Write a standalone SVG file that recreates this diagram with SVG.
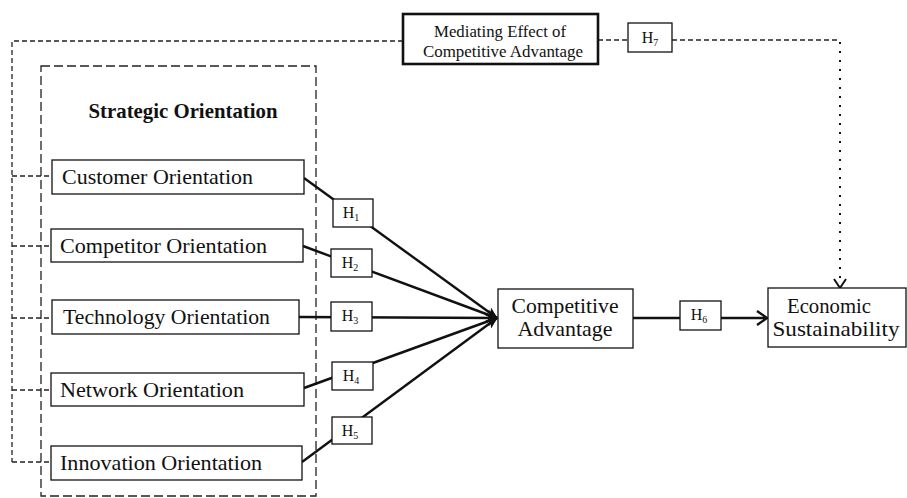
<svg xmlns="http://www.w3.org/2000/svg" width="907" height="498" viewBox="0 0 907 498">
<defs>
<style>
.box{fill:#fff;stroke:#111;stroke-width:1.3}
.thick{fill:#fff;stroke:#111;stroke-width:2.6}
.t{font-family:"Liberation Serif","DejaVu Serif",serif;fill:#111}
.node{font-size:21px}
.h{font-size:16px;text-anchor:middle}
.sub{font-size:10px}
.solid{stroke:#111;stroke-width:2.4;fill:none}
.dash{stroke:#222;stroke-width:1.3;fill:none;stroke-dasharray:5 3}
.dot{stroke:#111;stroke-width:2;fill:none;stroke-dasharray:2 7}
</style>
<marker id="fill" viewBox="0 0 12 10" refX="11" refY="5" markerWidth="12" markerHeight="10" markerUnits="userSpaceOnUse" orient="auto">
<path d="M0,0 L12,5 L0,10 L3,5 Z" fill="#111"/>
</marker>
</defs>
<g id="strategic-orientation">
<rect x="41" y="66" width="275" height="430" fill="none" stroke="#222" stroke-width="1.3" stroke-dasharray="9 4"/>
<text class="t" x="183" y="118" font-size="21" font-weight="bold" text-anchor="middle" textLength="189" lengthAdjust="spacingAndGlyphs">Strategic Orientation</text>
</g>
<g id="connectors">
<path class="dash" d="M403,41 H12 V462 M12,176 H51 M12,246 H51 M12,318 H51 M12,390 H51 M12,462 H51"/>
<path class="dash" d="M598,40 H628 M672,40 H840"/>
<path class="dot" d="M840,42 V284"/>
<path d="M834,279 L840,288 L846,279" fill="none" stroke="#111" stroke-width="2"/>
<line class="solid" x1="304" y1="178" x2="497" y2="318" marker-end="url(#fill)"/>
<line class="solid" x1="303" y1="246" x2="497" y2="318" marker-end="url(#fill)"/>
<line class="solid" x1="299" y1="317" x2="497" y2="318" marker-end="url(#fill)"/>
<line class="solid" x1="304" y1="388" x2="497" y2="318" marker-end="url(#fill)"/>
<line class="solid" x1="302" y1="462" x2="497" y2="318" marker-end="url(#fill)"/>
<line class="solid" x1="633" y1="318" x2="766" y2="318"/>
<path d="M757,311 L767,318 L757,325" fill="none" stroke="#111" stroke-width="2.4"/>
</g>
<g id="mediating-effect">
<rect class="thick" x="403" y="14" width="195" height="50"/>
<text class="t" x="500" y="37" font-size="17" text-anchor="middle" textLength="132" lengthAdjust="spacingAndGlyphs">Mediating Effect of</text>
<text class="t" x="503" y="57" font-size="17" text-anchor="middle" textLength="160" lengthAdjust="spacingAndGlyphs">Competitive Advantage</text>
</g>
<g id="h7">
<rect class="box" x="628" y="23" width="44" height="29"/>
<text class="t h" x="650" y="43">H<tspan class="sub" dy="3">7</tspan></text>
</g>
<g id="customer-orientation">
<rect class="box" x="52" y="160" width="252" height="34"/>
<text class="t node" x="62" y="184" textLength="191" lengthAdjust="spacingAndGlyphs">Customer Orientation</text>
</g>
<g id="competitor-orientation">
<rect class="box" x="51" y="229" width="252" height="33"/>
<text class="t node" x="60" y="253" textLength="207" lengthAdjust="spacingAndGlyphs">Competitor Orientation</text>
</g>
<g id="technology-orientation">
<rect class="box" x="52" y="300" width="247" height="34"/>
<text class="t node" x="63" y="324" textLength="207" lengthAdjust="spacingAndGlyphs">Technology Orientation</text>
</g>
<g id="network-orientation">
<rect class="box" x="51" y="373" width="253" height="33"/>
<text class="t node" x="60" y="397" textLength="184" lengthAdjust="spacingAndGlyphs">Network Orientation</text>
</g>
<g id="innovation-orientation">
<rect class="box" x="51" y="446" width="251" height="34"/>
<text class="t node" x="60" y="470" textLength="202" lengthAdjust="spacingAndGlyphs">Innovation Orientation</text>
</g>
<g id="h1">
<rect class="box" x="333" y="199" width="40" height="28"/>
<text class="t h" x="351" y="218">H<tspan class="sub" dy="3">1</tspan></text>
</g>
<g id="h2">
<rect class="box" x="331" y="249" width="41" height="28"/>
<text class="t h" x="350" y="268">H<tspan class="sub" dy="3">2</tspan></text>
</g>
<g id="h3">
<rect class="box" x="331" y="302" width="41" height="29"/>
<text class="t h" x="350" y="321">H<tspan class="sub" dy="3">3</tspan></text>
</g>
<g id="h4">
<rect class="box" x="332" y="362" width="41" height="28"/>
<text class="t h" x="351" y="381">H<tspan class="sub" dy="3">4</tspan></text>
</g>
<g id="h5">
<rect class="box" x="332" y="417" width="40" height="27"/>
<text class="t h" x="350" y="436">H<tspan class="sub" dy="3">5</tspan></text>
</g>
<g id="competitive-advantage">
<rect class="box" x="498" y="289" width="135" height="59"/>
<text class="t" x="565" y="313" font-size="21" text-anchor="middle" textLength="107" lengthAdjust="spacingAndGlyphs">Competitive</text>
<text class="t" x="565" y="336" font-size="21" text-anchor="middle" textLength="95" lengthAdjust="spacingAndGlyphs">Advantage</text>
</g>
<g id="h6">
<rect class="box" x="680" y="301" width="41" height="29"/>
<text class="t h" x="699" y="320">H<tspan class="sub" dy="3">6</tspan></text>
</g>
<g id="economic-sustainability">
<rect class="box" x="768" y="288" width="138" height="59"/>
<text class="t" x="829" y="313" font-size="21" text-anchor="middle" textLength="84" lengthAdjust="spacingAndGlyphs">Economic</text>
<text class="t" x="836" y="336" font-size="21" text-anchor="middle" textLength="127" lengthAdjust="spacingAndGlyphs">Sustainability</text>
</g>
</svg>
